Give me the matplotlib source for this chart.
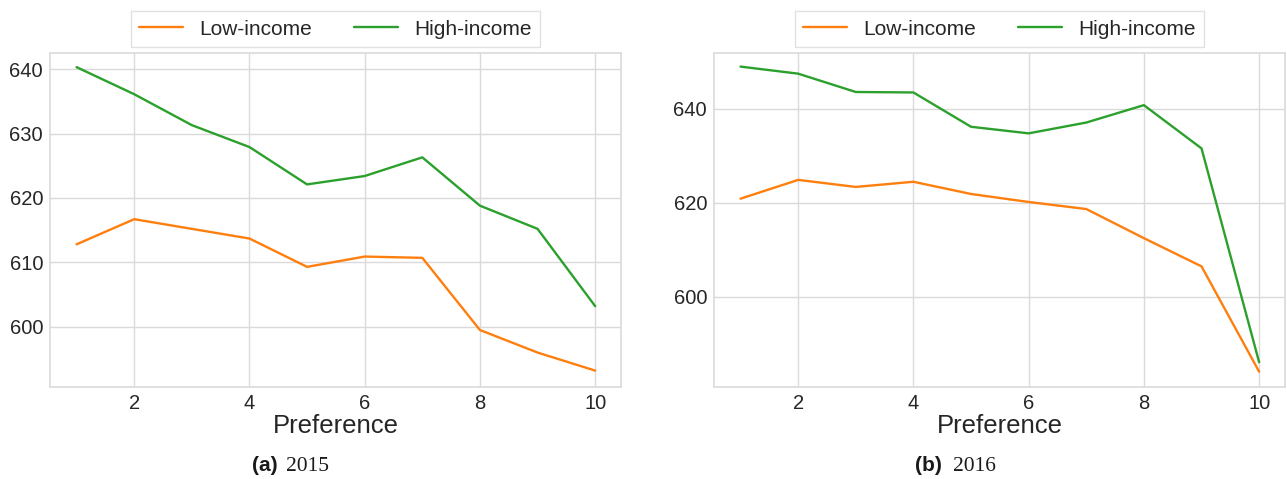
import matplotlib.pyplot as plt

# preference levels on the x axis
preference = [1, 2, 3, 4, 5, 6, 7, 8, 9, 10]

# mean scores by income group, 2015
low_2015 = [612.8, 616.7, 615.2, 613.7, 609.3, 610.9, 610.7, 599.5, 596.0, 593.2]
high_2015 = [640.3, 636.1, 631.3, 627.9, 622.1, 623.4, 626.3, 618.8, 615.2, 603.2]

# mean scores by income group, 2016
low_2016 = [620.9, 624.9, 623.4, 624.5, 621.9, 620.2, 618.7, 612.5, 606.5, 584.1]
high_2016 = [649.0, 647.5, 643.6, 643.5, 636.2, 634.8, 637.1, 640.8, 631.6, 586.1]

plt.style.use('seaborn-v0_8-whitegrid')
plt.rcParams['font.family'] = ['Liberation Sans', 'DejaVu Sans']

fig = plt.figure(figsize=(12.87, 4.79), dpi=100)
ax1 = fig.add_axes([0.0389, 0.1927, 0.4437, 0.6967])
ax2 = fig.add_axes([0.5548, 0.1927, 0.4437, 0.6967])

panels = [
    (ax1, low_2015, high_2015, (590.7, 642.5), [600, 610, 620, 630, 640], '(a)', '2015', 0.1958, 0.2222),
    (ax2, low_2016, high_2016, (580.9, 651.9), [600, 620, 640], '(b)', '2016', 0.7110, 0.7402),
]

for ax, low, high, ylim, yticks, tag, year, tag_x, year_x in panels:
    ax.plot(preference, low, color='#ff7f0e', lw=1.7, label='Low-income')
    ax.plot(preference, high, color='#2ca02c', lw=1.7, label='High-income')
    ax.set_ylim(*ylim)
    ax.set_yticks(yticks)
    ax.set_xticks([2, 4, 6, 8, 10])
    ax.set_xlim(0.54, 10.45)
    ax.tick_params(labelsize=14.5, length=0, pad=5, colors='#262626')
    ax.set_xlabel('Preference', fontsize=18.5, color='#262626', labelpad=1)
    ax.grid(True, color='#dadada', lw=1)
    for s in ax.spines.values():
        s.set_color('#dadada')
        s.set_linewidth(1.2)
    leg = ax.legend(loc='lower center', bbox_to_anchor=(0.5, 1.018), ncol=2,
                    fontsize=15, frameon=True, fancybox=False, edgecolor='#dadada',
                    handlelength=2.1, handletextpad=0.8, columnspacing=2.0,
                    borderaxespad=0.0)
    leg.get_frame().set_linewidth(1.0)
    for t in leg.get_texts():
        t.set_color('#262626')

    # subfigure caption: bold tag followed by the year in a serif face
    fig.text(tag_x, 0.0167, tag, fontsize=15, fontweight='bold', ha='left', va='baseline',
             color='#1a1a1a')
    fig.text(year_x, 0.0167, year, fontsize=15.5, family='Liberation Serif', ha='left',
             va='baseline', color='#1a1a1a')

fig.savefig('out.png', dpi=100)
